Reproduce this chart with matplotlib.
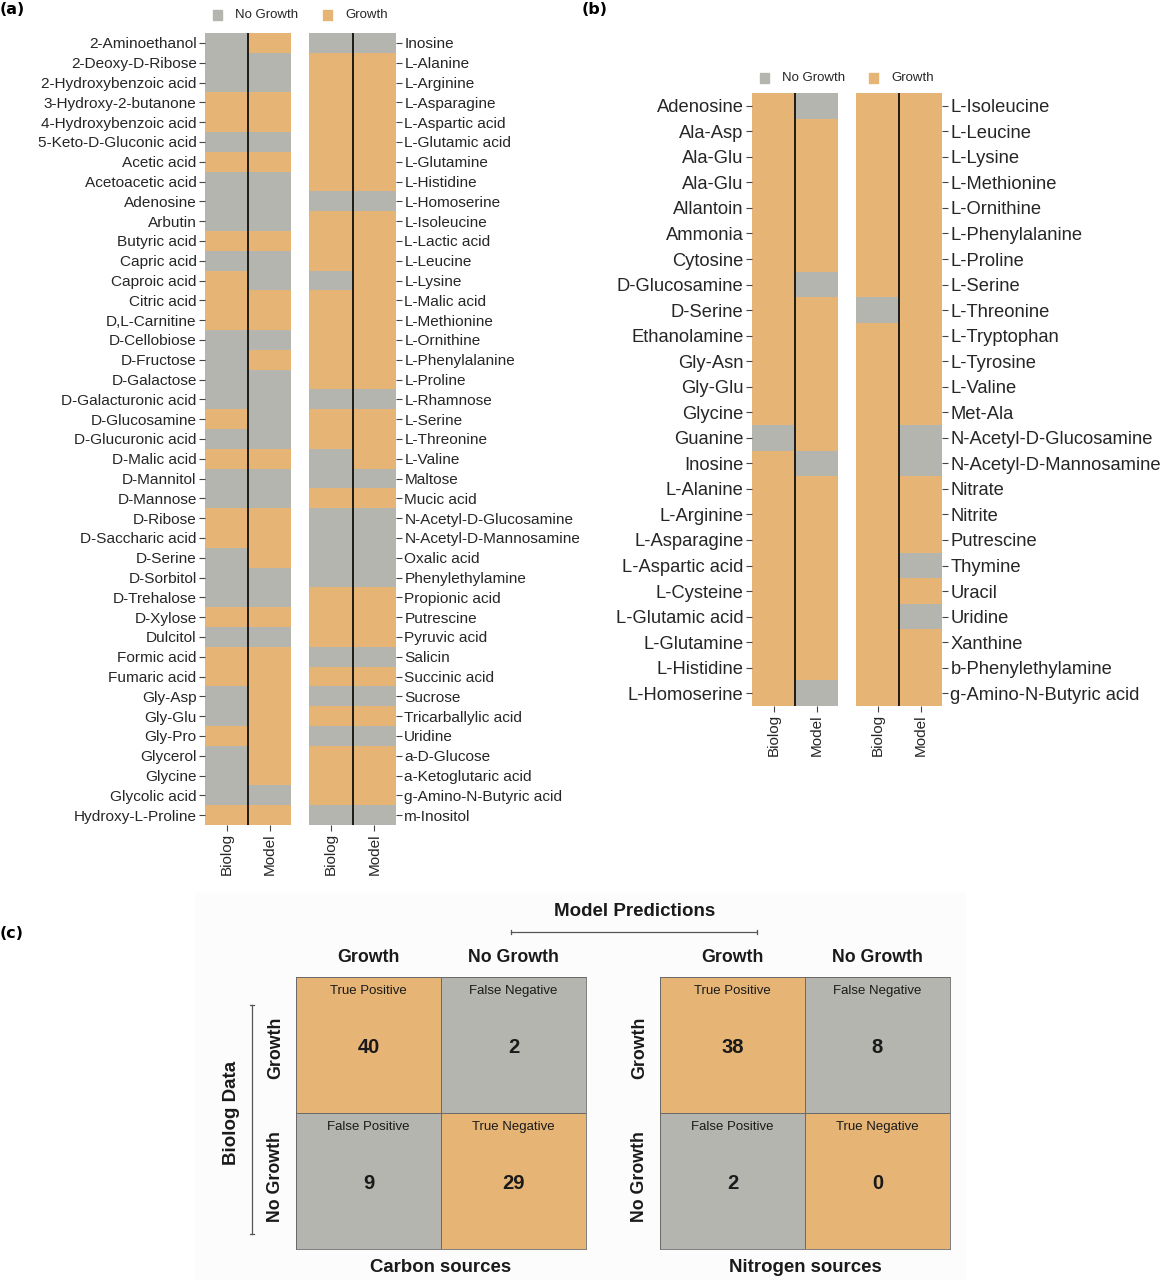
import numpy as np
import matplotlib
matplotlib.use("Agg")
import matplotlib.pyplot as plt
from matplotlib.colors import ListedColormap
from matplotlib.patches import Rectangle
from matplotlib.lines import Line2D

plt.rcParams['font.family'] = ['Liberation Sans', 'DejaVu Sans']

# ---- data: 1 = Growth, 0 = No Growth ----
carbon_left_labels = [
    "2-Aminoethanol", "2-Deoxy-D-Ribose", "2-Hydroxybenzoic acid", "3-Hydroxy-2-butanone",
    "4-Hydroxybenzoic acid", "5-Keto-D-Gluconic acid", "Acetic acid", "Acetoacetic acid",
    "Adenosine", "Arbutin", "Butyric acid", "Capric acid", "Caproic acid", "Citric acid",
    "D,L-Carnitine", "D-Cellobiose", "D-Fructose", "D-Galactose", "D-Galacturonic acid",
    "D-Glucosamine", "D-Glucuronic acid", "D-Malic acid", "D-Mannitol", "D-Mannose",
    "D-Ribose", "D-Saccharic acid", "D-Serine", "D-Sorbitol", "D-Trehalose", "D-Xylose",
    "Dulcitol", "Formic acid", "Fumaric acid", "Gly-Asp", "Gly-Glu", "Gly-Pro", "Glycerol",
    "Glycine", "Glycolic acid", "Hydroxy-L-Proline"]
carbon_left_biolog = [0, 0, 0, 1, 1, 0, 1, 0, 0, 0, 1, 0, 1, 1, 1, 0, 0, 0, 0, 1,
                      0, 1, 0, 0, 1, 1, 0, 0, 0, 1, 0, 1, 1, 0, 0, 1, 0, 0, 0, 1]
carbon_left_model = [1, 0, 0, 1, 1, 0, 1, 0, 0, 0, 1, 0, 0, 1, 1, 0, 1, 0, 0, 0,
                     0, 1, 0, 0, 1, 1, 1, 0, 0, 1, 0, 1, 1, 1, 1, 1, 1, 1, 0, 1]

carbon_right_labels = [
    "Inosine", "L-Alanine", "L-Arginine", "L-Asparagine", "L-Aspartic acid", "L-Glutamic acid",
    "L-Glutamine", "L-Histidine", "L-Homoserine", "L-Isoleucine", "L-Lactic acid", "L-Leucine",
    "L-Lysine", "L-Malic acid", "L-Methionine", "L-Ornithine", "L-Phenylalanine", "L-Proline",
    "L-Rhamnose", "L-Serine", "L-Threonine", "L-Valine", "Maltose", "Mucic acid",
    "N-Acetyl-D-Glucosamine", "N-Acetyl-D-Mannosamine", "Oxalic acid", "Phenylethylamine",
    "Propionic acid", "Putrescine", "Pyruvic acid", "Salicin", "Succinic acid", "Sucrose",
    "Tricarballylic acid", "Uridine", "a-D-Glucose", "a-Ketoglutaric acid",
    "g-Amino-N-Butyric acid", "m-Inositol"]
carbon_right_biolog = [0, 1, 1, 1, 1, 1, 1, 1, 0, 1, 1, 1, 0, 1, 1, 1, 1, 1, 0, 1,
                       1, 0, 0, 1, 0, 0, 0, 0, 1, 1, 1, 0, 1, 0, 1, 0, 1, 1, 1, 0]
carbon_right_model = [0, 1, 1, 1, 1, 1, 1, 1, 0, 1, 1, 1, 1, 1, 1, 1, 1, 1, 0, 1,
                      1, 1, 0, 1, 0, 0, 0, 0, 1, 1, 1, 0, 1, 0, 1, 0, 1, 1, 1, 0]

nitrogen_left_labels = [
    "Adenosine", "Ala-Asp", "Ala-Glu", "Ala-Glu", "Allantoin", "Ammonia", "Cytosine",
    "D-Glucosamine", "D-Serine", "Ethanolamine", "Gly-Asn", "Gly-Glu", "Glycine", "Guanine",
    "Inosine", "L-Alanine", "L-Arginine", "L-Asparagine", "L-Aspartic acid", "L-Cysteine",
    "L-Glutamic acid", "L-Glutamine", "L-Histidine", "L-Homoserine"]
nitrogen_left_biolog = [1, 1, 1, 1, 1, 1, 1, 1, 1, 1, 1, 1, 1, 0, 1, 1, 1, 1, 1, 1, 1, 1, 1, 1]
nitrogen_left_model = [0, 1, 1, 1, 1, 1, 1, 0, 1, 1, 1, 1, 1, 1, 0, 1, 1, 1, 1, 1, 1, 1, 1, 0]

nitrogen_right_labels = [
    "L-Isoleucine", "L-Leucine", "L-Lysine", "L-Methionine", "L-Ornithine", "L-Phenylalanine",
    "L-Proline", "L-Serine", "L-Threonine", "L-Tryptophan", "L-Tyrosine", "L-Valine", "Met-Ala",
    "N-Acetyl-D-Glucosamine", "N-Acetyl-D-Mannosamine", "Nitrate", "Nitrite", "Putrescine",
    "Thymine", "Uracil", "Uridine", "Xanthine", "b-Phenylethylamine", "g-Amino-N-Butyric acid"]
nitrogen_right_biolog = [1, 1, 1, 1, 1, 1, 1, 1, 0, 1, 1, 1, 1, 1, 1, 1, 1, 1, 1, 1, 1, 1, 1, 1]
nitrogen_right_model = [1, 1, 1, 1, 1, 1, 1, 1, 1, 1, 1, 1, 1, 0, 0, 1, 1, 1, 0, 1, 0, 1, 1, 1]

cell_names = [["True Positive", "False Negative"], ["False Positive", "True Negative"]]
class_names = ["Growth", "No Growth"]

GRAY = '#b5b5af'
ORANGE = '#e6b475'
cmap = ListedColormap([GRAY, ORANGE])
TXT = '#262626'
DARK = '#1a1a1a'

W, H = 1166, 1280
fig = plt.figure(figsize=(W / 100, H / 100), dpi=100)


def box(x0, y0, x1, y1):
    return [x0 / W, 1 - y1 / H, (x1 - x0) / W, (y1 - y0) / H]


def fx(x):
    return x / W


def fy(y):
    return 1 - y / H


def heat(rect, labels, biolog, model, side, fs):
    ax = fig.add_axes(rect)
    data = np.column_stack([biolog, model])
    ax.pcolormesh(data, cmap=cmap, vmin=0, vmax=1)
    ax.set_xlim(0, 2)
    ax.set_ylim(len(labels), 0)
    ax.axvline(1, color='black', lw=1.2)
    ax.set_yticks(np.arange(len(labels)) + 0.5)
    ax.set_yticklabels(labels, fontsize=fs, color=TXT)
    ax.set_xticks([0.5, 1.5])
    ax.set_xticklabels(['Biolog', 'Model'], rotation=90, fontsize=11, color=TXT)
    if side == 'right':
        ax.yaxis.tick_right()
    for s in ax.spines.values():
        s.set_visible(False)
    ax.tick_params(length=4, color='#444', width=0.8, pad=2)
    return ax


def legend(x_gray, x_org, y, size):
    for xx, c, lab in [(x_gray, GRAY, "No Growth"), (x_org, ORANGE, "Growth")]:
        fig.patches.append(Rectangle((fx(xx), fy(y + size / 2)), size / W, size / H,
                                     transform=fig.transFigure, color=c))
        fig.text(fx(xx + size + 13), fy(y), lab, fontsize=9.5, color=TXT, va='center')


# ---- (a) carbon sources ----
heat(box(205, 33, 291, 825), carbon_left_labels, carbon_left_biolog, carbon_left_model, 'left', 11.1)
heat(box(309, 33, 396, 825), carbon_right_labels, carbon_right_biolog, carbon_right_model, 'right', 11.1)
legend(213, 323, 15, 9)
fig.text(0.0, fy(10), "(a)", fontsize=11.5, fontweight='bold', family='DejaVu Sans', va='center')

# ---- (b) nitrogen sources ----
heat(box(752, 93, 838, 706), nitrogen_left_labels, nitrogen_left_biolog, nitrogen_left_model, 'left', 13.2)
heat(box(856, 93, 942, 706), nitrogen_right_labels, nitrogen_right_biolog, nitrogen_right_model, 'right', 13.2)
legend(760, 869, 78, 9)
fig.text(fx(582), fy(10), "(b)", fontsize=11.5, fontweight='bold', family='DejaVu Sans', va='center')

# ---- (c) confusion matrices ----
fig.text(0.0, fy(934), "(c)", fontsize=11.5, fontweight='bold', family='DejaVu Sans', va='center')
fig.patches.append(Rectangle((fx(195), 0), (965 - 195) / W, (1280 - 893) / H,
                             transform=fig.transFigure, color='#fcfcfc', zorder=-5))


def confusion(x0, x1, biolog_lists, model_lists, title):
    b = np.concatenate(biolog_lists)
    m = np.concatenate(model_lists)
    counts = np.array([[np.sum((b == 1) & (m == 1)), np.sum((b == 1) & (m == 0))],
                       [np.sum((b == 0) & (m == 1)), np.sum((b == 0) & (m == 0))]])
    ax = fig.add_axes(box(x0, 977, x1, 1249))
    pattern = np.array([[1, 0], [0, 1]])
    ax.pcolormesh(pattern, cmap=cmap, vmin=0, vmax=1, edgecolors='#6a6a6a', linewidth=0.6)
    ax.set_xlim(0, 2)
    ax.set_ylim(2, 0)
    ax.set_xticks([])
    ax.set_yticks([])
    for s in ax.spines.values():
        s.set_color('#6a6a6a')
        s.set_linewidth(0.6)
    for i in range(2):
        for j in range(2):
            ax.text(j + 0.5, i + 0.1, cell_names[i][j], ha='center', va='center',
                    fontsize=9.5, color=DARK)
            ax.text(j + 0.5, i + 0.52, str(counts[i, j]), ha='center', va='center',
                    fontsize=14.5, fontweight='bold', color=DARK)
    cw = (x1 - x0) / 2
    for j, name in enumerate(class_names):
        fig.text(fx(x0 + cw * (j + 0.5)), fy(958), name, ha='center', va='center',
                 fontsize=12.8, fontweight='bold', color=DARK)
    for i, (name, yc) in enumerate(zip(class_names, [1048, 1177])):
        fig.text(fx(x0 - 20), fy(yc), name, ha='center', va='center', rotation=90,
                 fontsize=12.8, fontweight='bold', color=DARK)
    fig.text(fx((x0 + x1) / 2), fy(1268), title, ha='center', va='center',
             fontsize=13.4, fontweight='bold', color=DARK)


confusion(296, 586, [carbon_left_biolog, carbon_right_biolog],
          [carbon_left_model, carbon_right_model], "Carbon sources")
confusion(660, 950, [nitrogen_left_biolog, nitrogen_right_biolog],
          [nitrogen_left_model, nitrogen_right_model], "Nitrogen sources")

fig.text(fx(635), fy(911), "Model Predictions", ha='center', va='center',
         fontsize=13.5, fontweight='bold', color=DARK)
fig.add_artist(Line2D([fx(511), fx(757)], [fy(932), fy(932)], color='#555', lw=0.9))
for xx in [511, 757]:
    fig.add_artist(Line2D([fx(xx), fx(xx)], [fy(930), fy(934)], color='#555', lw=0.9))
fig.text(fx(232), fy(1113), "Biolog Data", ha='center', va='center', rotation=90,
         fontsize=13.5, fontweight='bold', color=DARK)
fig.add_artist(Line2D([fx(252), fx(252)], [fy(1005), fy(1234)], color='#555', lw=0.9))
for yy in [1005, 1234]:
    fig.add_artist(Line2D([fx(250), fx(254)], [fy(yy), fy(yy)], color='#555', lw=0.9))

fig.savefig("out.png", dpi=100, facecolor='white')
